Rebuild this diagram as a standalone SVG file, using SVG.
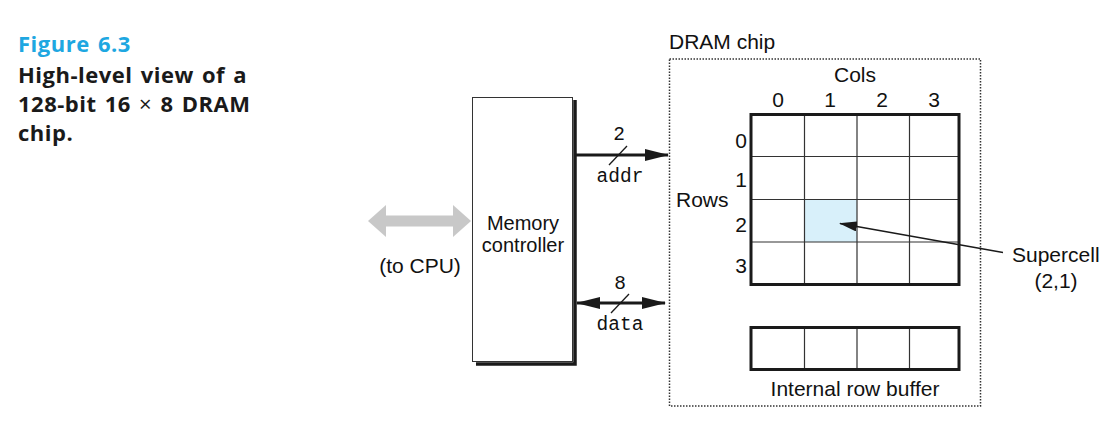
<svg xmlns="http://www.w3.org/2000/svg" width="1116" height="426" viewBox="0 0 1116 426">
<style>
.t{font-family:"Liberation Sans",Arial,sans-serif;font-size:21px;fill:#111}
.m{font-family:"Liberation Mono","Courier New",monospace;font-size:19.5px;fill:#111}
.cap{font-family:"Open Sans","Liberation Sans",sans-serif;font-weight:bold;font-size:22px;letter-spacing:0.5px;word-spacing:2px;fill:#1a1a1a}
.thin{stroke:#333;stroke-width:1.2;fill:none}
.thick{stroke:#1a1a1a;stroke-width:3;fill:none}
</style>
<defs>
<marker id="ah" markerWidth="24" markerHeight="12" refX="23" refY="6" orient="auto" markerUnits="userSpaceOnUse">
<path d="M0,0 L24,6 L0,12 Z" fill="#1a1a1a"/>
</marker>
<marker id="ahs" markerWidth="24" markerHeight="12" refX="1" refY="6" orient="auto" markerUnits="userSpaceOnUse">
<path d="M24,0 L0,6 L24,12 Z" fill="#1a1a1a"/>
</marker>
<marker id="ahSmall" markerWidth="18" markerHeight="10" refX="17" refY="5" orient="auto" markerUnits="userSpaceOnUse">
<path d="M0,0 L18,5 L0,10 Z" fill="#1a1a1a"/>
</marker>
</defs>
<rect width="1116" height="426" fill="#fff"/>

<g id="caption">
<text x="18" y="52" class="cap" style="fill:#1ea7e1">Figure 6.3</text>
<text x="18" y="83" class="cap">High-level view of a</text>
<text x="18" y="112" class="cap">128-bit 16 <tspan style="font-weight:normal">×</tspan> 8 DRAM</text>
<text x="18" y="141" class="cap">chip.</text>
</g>

<g id="cpu-link">
<path d="M368,221 L386,205 L386,215.5 L453,215.5 L453,205 L471,221 L453,237 L453,226.5 L386,226.5 L386,237 Z" fill="#c8c8c8"/>
<text x="420" y="273" class="t" text-anchor="middle">(to CPU)</text>
</g>

<g id="memory-controller">
<path d="M575,100 L575,364 L476,364" stroke="#1a1a1a" stroke-width="3.5" fill="none"/>
<rect x="472.5" y="97.5" width="100" height="264" fill="#fff" stroke="#333" stroke-width="1"/>
<text x="523" y="230" class="t" text-anchor="middle" style="font-size:20px">Memory</text>
<text x="523" y="252" class="t" text-anchor="middle" style="font-size:20px">controller</text>
</g>

<g id="dram-chip">
<rect x="669.5" y="59" width="311" height="347" fill="none" stroke="#333" stroke-width="1.5" stroke-dasharray="1.5,1.5"/>
<text x="669" y="49" class="t">DRAM chip</text>
</g>

<g id="array">
<text x="855" y="82" class="t" text-anchor="middle">Cols</text>
<text x="778" y="107" class="t" text-anchor="middle">0</text>
<text x="830" y="107" class="t" text-anchor="middle">1</text>
<text x="882" y="107" class="t" text-anchor="middle">2</text>
<text x="934" y="107" class="t" text-anchor="middle">3</text>
<text x="676" y="207" class="t">Rows</text>
<text x="747" y="148" class="t" text-anchor="end">0</text>
<text x="747" y="187" class="t" text-anchor="end">1</text>
<text x="747" y="232" class="t" text-anchor="end">2</text>
<text x="747" y="273" class="t" text-anchor="end">3</text>
<rect id="supercell" x="804" y="199.5" width="53" height="42.5" fill="#d8f0fa"/>
<path class="thin" d="M804.5,114 V284 M857,114 V284 M909.5,114 V284 M751,156.5 H959 M751,199.5 H959 M751,242 H959"/>
<rect class="thick" x="751" y="114.5" width="208" height="170"/>
</g>

<g id="supercell-label">
<text x="1012" y="262" class="t">Supercell</text>
<text x="1056" y="288" class="t" text-anchor="middle">(2,1)</text>
</g>

<g id="row-buffer">
<path class="thin" d="M804.5,327 V369 M857,327 V369 M909.5,327 V369"/>
<rect class="thick" x="751" y="327.5" width="208" height="42"/>
<text x="855" y="396" class="t" text-anchor="middle">Internal row buffer</text>
</g>

<g id="connectors">
<line x1="575" y1="155" x2="668" y2="155" stroke="#1a1a1a" stroke-width="3" marker-end="url(#ah)"/>
<line x1="609" y1="165" x2="627" y2="146" stroke="#1a1a1a" stroke-width="1.3"/>
<text x="619" y="140" class="m" text-anchor="middle">2</text>
<text x="620" y="182" class="m" text-anchor="middle">addr</text>
<line x1="577" y1="303" x2="665" y2="303" stroke="#1a1a1a" stroke-width="3" marker-start="url(#ahs)" marker-end="url(#ah)"/>
<line x1="611" y1="313" x2="629" y2="294" stroke="#1a1a1a" stroke-width="1.3"/>
<text x="620" y="289" class="m" text-anchor="middle">8</text>
<text x="620" y="330" class="m" text-anchor="middle">data</text>
<line x1="1003" y1="252.5" x2="840" y2="223.5" stroke="#1a1a1a" stroke-width="1.3" marker-end="url(#ahSmall)"/>
</g>
</svg>
